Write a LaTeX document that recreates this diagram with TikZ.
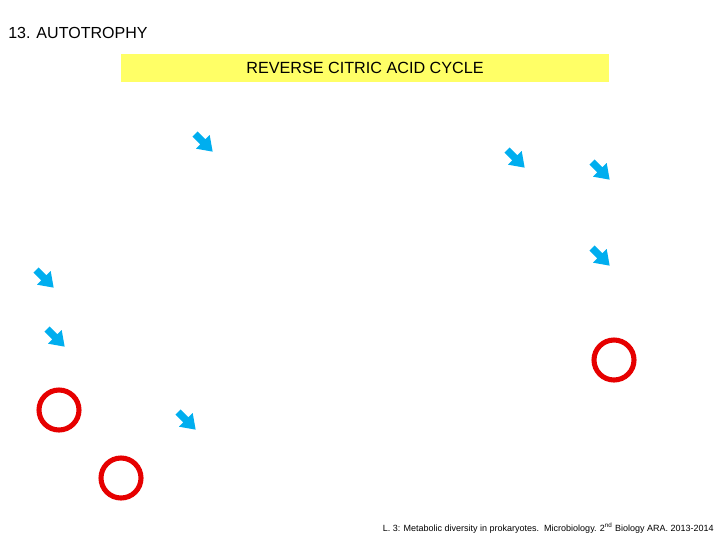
\documentclass[tikz,border=0pt]{standalone}
\usepackage{fontspec}
\setmainfont{Liberation Sans}
\usetikzlibrary{shapes.arrows}
\definecolor{arrowblue}{RGB}{0,174,239}
\definecolor{pale yellow}{RGB}{255,255,102}
\definecolor{ring red}{RGB}{230,0,0}

\begin{document}
\begin{tikzpicture}[x=0.025cm,y=-0.025cm,
		blue arrow/.style={single arrow,fill=arrowblue,draw=none,inner xsep=0pt,inner ysep=0.085cm,
			minimum height=0.62cm,single arrow head extend=0.15cm,
			single arrow tip angle=70,rotate=-45},
		ring/.style={circle,draw=ring red,line width=3.6pt,minimum size=1.0cm,inner sep=0pt}]
		
		\useasboundingbox (0,0) rectangle (720,540);
		
		\node[anchor=west,inner sep=0pt,font=\fontsize{11.4}{13}\selectfont] (title) at (8,33) {13. AUTOTROPHY};
		\node[fill=pale yellow,minimum width=12.2cm,minimum height=0.68cm,inner sep=0pt,
			font=\fontsize{11.5}{13}\selectfont] (cycle) at (365,68) {REVERSE CITRIC ACID CYCLE};
		
		% arrows
		\node[blue arrow] (a1) at (202,141) {};
		\node[blue arrow] (a2) at (514,157) {};
		\node[blue arrow] (a3) at (599,169) {};
		\node[blue arrow] (a4) at (599,255) {};
		\node[blue arrow] (a5) at (43,277) {};
		\node[blue arrow] (a6) at (54,336) {};
		\node[blue arrow] (a7) at (185,419) {};
		
		% circles
		\node[ring] (c1) at (59,410) {};
		\node[ring] (c2) at (121,478) {};
		\node[ring] (c3) at (614,360) {};
		
		\node[anchor=east,inner sep=0pt,font=\fontsize{6.4}{7}\selectfont] (foot) at (714,528)
			{L. 3: Metabolic diversity in prokaryotes.\ \ Microbiology. 2\textsuperscript{nd} Biology ARA. 2013-2014};
\end{tikzpicture}
\end{document}
